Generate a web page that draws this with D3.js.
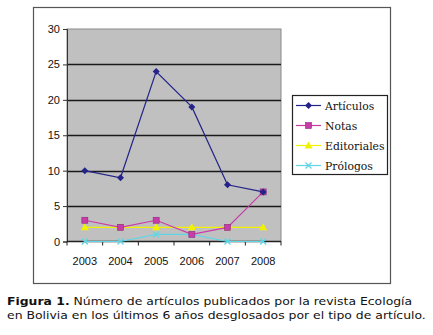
<!DOCTYPE html>
<html>
<head>
<meta charset="utf-8">
<script src="https://cdn.jsdelivr.net/npm/d3@7"></script>
<style>
  body { margin: 0; background: #fff; }
  #chart { position: absolute; left: 0; top: 0; }
</style>
</head>
<body>
<div id="chart"></div>
<script>
// data
var years = ["2003", "2004", "2005", "2006", "2007", "2008"];
var articulos = [10, 9, 24, 19, 8, 7];
var notas = [3, 2, 3, 1, 2, 7];
var editoriales = [2, 2, 2, 2, 2, 2];
var prologos = [0, 0, 1, 1, 0, 0];
var yTicks = [0, 5, 10, 15, 20, 25, 30];
var seriesNames = ["Artículos", "Notas", "Editoriales", "Prólogos"];

var series = [
    { name: seriesNames[0], values: articulos, color: "#23238a", marker: "diamond" },
    { name: seriesNames[1], values: notas, color: "#c83ca8", marker: "square" },
    { name: seriesNames[2], values: editoriales, color: "#f2f200", marker: "triangle" },
    { name: seriesNames[3], values: prologos, color: "#5fd6e6", marker: "cross" }
];

var W = 433, H = 335;
var plot = { left: 67, top: 29, right: 281, bottom: 241.5 };

var svg = d3.select("#chart")
    .append("svg")
    .attr("width", W)
    .attr("height", H);

// outer chart frame
svg.append("rect")
    .attr("x", 33.5).attr("y", 7.5)
    .attr("width", 357).attr("height", 276)
    .attr("fill", "#fff")
    .attr("stroke", "#555")
    .attr("stroke-width", 1.2);

var x = d3.scaleBand()
    .domain(years)
    .range([plot.left, plot.right]);

var y = d3.scaleLinear()
    .domain([0, 30])
    .range([plot.bottom, plot.top]);

// plot area
svg.append("rect")
    .attr("x", plot.left).attr("y", plot.top)
    .attr("width", plot.right - plot.left)
    .attr("height", plot.bottom - plot.top)
    .attr("fill", "#c0c0c0")
    .attr("stroke", "#8a8a8a")
    .attr("stroke-width", 1);

// gridlines
svg.append("g")
    .selectAll("line")
    .data(yTicks.filter(function (d) { return d > 0 && d < 30; }))
    .enter()
    .append("line")
    .attr("x1", plot.left).attr("x2", plot.right)
    .attr("y1", function (d) { return Math.round(y(d)) + 0.5; })
    .attr("y2", function (d) { return Math.round(y(d)) + 0.5; })
    .attr("stroke", "#1a1a1a")
    .attr("stroke-width", 1.3);

// y axis
var yAxis = svg.append("g")
    .attr("transform", "translate(" + plot.left + ",0)")
    .call(d3.axisLeft(y).tickValues(yTicks).tickSize(4).tickPadding(3));
yAxis.select(".domain").attr("stroke", "#333");
yAxis.selectAll(".tick line").attr("stroke", "#333");
yAxis.selectAll("text")
    .attr("font-family", "Liberation Sans, Arial, sans-serif")
    .attr("font-size", 11)
    .attr("fill", "#111");

// x axis: ticks at category boundaries
var xAxis = svg.append("g")
    .attr("transform", "translate(0," + plot.bottom + ")");
xAxis.append("line")
    .attr("x1", plot.left).attr("x2", plot.right)
    .attr("y1", 0).attr("y2", 0)
    .attr("stroke", "#222").attr("stroke-width", 1.3);
xAxis.selectAll(".xtick")
    .data(years.concat(["end"]))
    .enter()
    .append("line")
    .attr("class", "xtick")
    .attr("x1", function (d, i) { return i < years.length ? x(d) : plot.right; })
    .attr("x2", function (d, i) { return i < years.length ? x(d) : plot.right; })
    .attr("y1", 0).attr("y2", 4)
    .attr("stroke", "#222");
xAxis.selectAll(".xlabel")
    .data(years)
    .enter()
    .append("text")
    .attr("class", "xlabel")
    .attr("x", function (d) { return x(d) + x.bandwidth() / 2; })
    .attr("y", 23)
    .attr("text-anchor", "middle")
    .attr("font-family", "Liberation Sans, Arial, sans-serif")
    .attr("font-size", 11)
    .attr("fill", "#111")
    .text(function (d) { return d; });

var cx = function (d, i) { return x(years[i]) + x.bandwidth() / 2; };

var line = d3.line()
    .x(cx)
    .y(function (d) { return y(d); });

function drawMarker(g, type, color) {
    if (type === "diamond") {
        g.append("path").attr("d", "M0,-3.5L3.5,0L0,3.5L-3.5,0Z").attr("fill", color);
    } else if (type === "square") {
        g.append("rect").attr("x", -3).attr("y", -3).attr("width", 6).attr("height", 6)
            .attr("fill", color).attr("stroke", "#8a2a80").attr("stroke-width", 0.6);
    } else if (type === "triangle") {
        g.append("path").attr("d", "M0,-4L4,3L-4,3Z").attr("fill", color);
    } else {
        g.append("path").attr("d", "M-3,-3L3,3M-3,3L3,-3").attr("stroke", color).attr("stroke-width", 1.3);
    }
}

// series drawn back to front
series.slice().reverse().forEach(function (s) {
    svg.append("path")
        .datum(s.values)
        .attr("d", line)
        .attr("fill", "none")
        .attr("stroke", s.color)
        .attr("stroke-width", 1.2);
    s.values.forEach(function (v, i) {
        var g = svg.append("g")
            .attr("transform", "translate(" + cx(v, i) + "," + y(v) + ")");
        drawMarker(g, s.marker, s.color);
    });
});

// legend
var leg = svg.append("g").attr("transform", "translate(292,95)");
leg.append("rect")
    .attr("x", 0.5).attr("y", 0.5)
    .attr("width", 95).attr("height", 79)
    .attr("fill", "#fff")
    .attr("stroke", "#222")
    .attr("stroke-width", 1.2);
series.forEach(function (s, i) {
    var ly = 10.5 + i * 20;
    leg.append("line")
        .attr("x1", 4).attr("x2", 29)
        .attr("y1", ly).attr("y2", ly)
        .attr("stroke", s.color).attr("stroke-width", 1.2);
    var g = leg.append("g").attr("transform", "translate(16.5," + ly + ")");
    drawMarker(g, s.marker, s.color);
    leg.append("text")
        .attr("x", 33).attr("y", ly + 4)
        .attr("font-family", "DejaVu Serif, serif")
        .attr("font-size", 10.8)
        .attr("fill", "#111")
        .text(s.name);
});

// caption (reference glyphs are wide, so stretch horizontally)
var cap = svg.append("text")
    .attr("transform", "translate(7,0) scale(1.13,1)")
    .attr("font-family", "DejaVu Sans, Verdana, sans-serif")
    .attr("font-size", 11)
    .attr("fill", "#111");
cap.append("tspan").attr("x", 0).attr("y", 305)
    .attr("font-weight", "bold").text("Figura 1.");
cap.append("tspan").text(" Número de artículos publicados por la revista Ecología");
cap.append("tspan").attr("x", 0).attr("y", 319)
    .text("en Bolivia en los últimos 6 años desglosados por el tipo de artículo.");
</script>
</body>
</html>
